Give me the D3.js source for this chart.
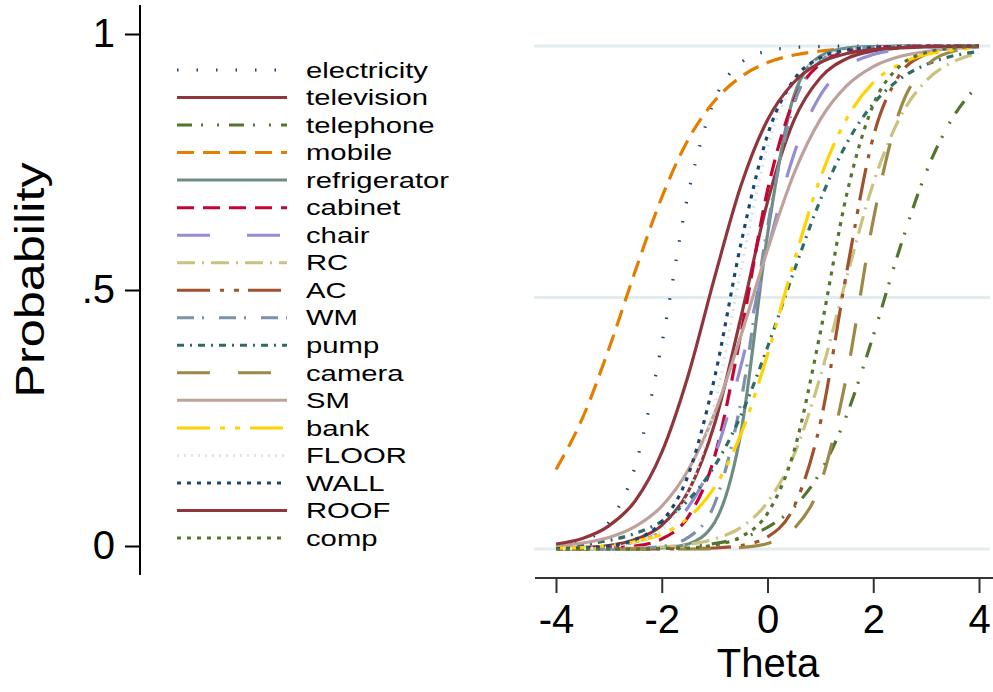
<!DOCTYPE html>
<html><head><meta charset="utf-8">
<script src="https://cdn.jsdelivr.net/npm/d3@7"></script>
<style>
body{margin:0;background:#fff}
svg{display:block}
text{font-family:"Liberation Sans",Arial,sans-serif;fill:#000}
</style>
</head><body>
<svg id="chart" width="993" height="692"></svg>
<script>
// ---------- data ----------
const thetaGrid = [-4,-3.5,-3,-2.5,-2,-1.5,-1,-0.5,0,0.5,1,1.5,2,2.5,3,3.5,4];
const itemNames = ["electricity","television","telephone","mobile","refrigerator","cabinet","chair","RC","AC","WM","pump","camera","SM","bank","FLOOR","WALL","ROOF","comp"];

const electricity  = [0.005,0.016,0.053,0.165,0.407,0.706,0.893,0.967,0.990,0.997,0.999,1,1,1,1,1,1];
const television   = [0.001,0.003,0.007,0.019,0.047,0.114,0.249,0.462,0.690,0.852,0.937,0.975,0.990,0.996,0.998,0.999,1];
const telephone    = [0,0,0.001,0.001,0.003,0.005,0.011,0.022,0.043,0.083,0.153,0.267,0.424,0.597,0.749,0.857,0.924];
const mobile       = [0.158,0.260,0.398,0.553,0.699,0.814,0.891,0.939,0.967,0.982,0.990,0.995,0.997,0.999,0.999,1,1];
const refrigerator = [0,0,0,0,0.002,0.010,0.053,0.233,0.625,0.901,0.980,0.996,0.999,1,1,1,1];
const cabinet      = [0,0.001,0.002,0.006,0.020,0.064,0.184,0.429,0.713,0.892,0.965,0.989,0.997,0.999,1,1,1];
const chair        = [0.001,0.002,0.006,0.014,0.035,0.083,0.185,0.365,0.592,0.785,0.902,0.959,0.983,0.993,0.997,0.999,1];
const RC           = [0,0,0.001,0.002,0.004,0.009,0.020,0.043,0.093,0.187,0.343,0.541,0.727,0.857,0.931,0.968,0.986];
const AC           = [0,0,0,0,0,0.001,0.002,0.007,0.024,0.084,0.251,0.552,0.819,0.943,0.984,0.996,0.999];
const WM           = [0,0,0,0.001,0.005,0.023,0.090,0.295,0.641,0.884,0.970,0.993,0.998,1,1,1,1];
const pump         = [0.005,0.009,0.017,0.031,0.055,0.097,0.165,0.266,0.401,0.552,0.694,0.807,0.885,0.934,0.963,0.980,0.989];
const camera       = [0,0,0,0,0,0,0.001,0.003,0.011,0.040,0.129,0.346,0.654,0.871,0.960,0.989,0.997];
const SM           = [0.006,0.012,0.023,0.045,0.085,0.157,0.270,0.425,0.595,0.746,0.854,0.921,0.959,0.979,0.989,0.995,0.997];
const bank         = [0.002,0.003,0.007,0.015,0.030,0.062,0.123,0.229,0.386,0.571,0.738,0.856,0.927,0.964,0.983,0.992,0.996];
const FLOOR        = [0,0.001,0.004,0.013,0.038,0.112,0.285,0.557,0.799,0.926,0.975,0.992,0.997,0.999,1,1,1];
const WALL         = [0.001,0.002,0.006,0.019,0.054,0.147,0.341,0.608,0.823,0.933,0.977,0.992,0.997,0.999,1,1,1];
const ROOF         = [0.010,0.021,0.046,0.096,0.192,0.345,0.540,0.723,0.853,0.928,0.967,0.985,0.993,0.997,0.999,0.999,1];
const comp         = [0,0,0,0,0.001,0.002,0.008,0.024,0.071,0.194,0.431,0.706,0.883,0.960,0.987,0.996,0.999];

const seriesValues = [electricity,television,telephone,mobile,refrigerator,cabinet,chair,RC,AC,WM,pump,camera,SM,bank,FLOOR,WALL,ROOF,comp];

const yTickValues = [0, 0.5, 1];
const yTickLabels = ["0", ".5", "1"];
const xTickValues = [-4, -2, 0, 2, 4];
const xTickLabels = ["-4", "-2", "0", "2", "4"];
const xTitle = "Theta";
const yTitle = "Probability";

// ---------- styles ----------
const palette = ["#1a476f","#90353b","#55752f","#e37e00","#6e8e84","#c10534","#938dd2","#cac27e","#a0522d","#7b92a8","#2d6d66","#9c8847","#bfa19c","#ffd200","#d9e6eb","#1a476f","#90353b","#55752f"];
const dashes = ["1.5,18","","15,9,2,14,2,10","17,9","","17,9","33,37","18,7,2,7","33,10,4,10,5,9","17,8,2,15","7,6,2,6","33,28","","33,10,5,10,5,10","2,5","4,6","","4,6"];

// ---------- drawing ----------
const svg = d3.select("#chart");

const x = d3.scaleLinear().domain([-4, 4]).range([556, 979]);
const y = d3.scaleLinear().domain([0, 1]).range([549, 46]);
const yAx = d3.scaleLinear().domain([0, 1]).range([546, 34]);

// gridlines
svg.append("g").selectAll("line").data(yTickValues).join("line")
  .attr("x1", 534).attr("x2", 990)
  .attr("y1", d => y(d)).attr("y2", d => y(d))
  .attr("stroke", "#e3ecee").attr("stroke-width", 3);

// curves
const line = d3.line()
  .x((d, i) => x(thetaGrid[i]))
  .y(d => y(d))
  .curve(d3.curveMonotoneX);

svg.append("g").attr("fill", "none").selectAll("path")
  .data(seriesValues).join("path")
  .attr("d", d => line(d))
  .attr("stroke", (d, i) => palette[i])
  .attr("stroke-width", 3.2)
  .attr("stroke-dasharray", (d, i) => dashes[i] || null);

// left axis
const gy = svg.append("g").attr("transform", "translate(140,0)")
  .call(d3.axisLeft(yAx).tickValues(yTickValues)
    .tickFormat((d, i) => yTickLabels[i]).tickSize(15).tickPadding(10));
gy.select(".domain").attr("d", "M0,5V575").attr("stroke", "#000").attr("stroke-width", 2);
gy.selectAll(".tick line").attr("stroke", "#000").attr("stroke-width", 2);
gy.selectAll(".tick text").attr("font-size", 40).attr("font-family", "Liberation Sans, Arial, sans-serif").attr("fill", "#000");

// bottom axis
const gx = svg.append("g").attr("transform", "translate(0,578)")
  .call(d3.axisBottom(x).tickValues(xTickValues)
    .tickFormat((d, i) => xTickLabels[i]).tickSize(15).tickPadding(12));
gx.select(".domain").attr("d", "M535,0H993").attr("stroke", "#333").attr("stroke-width", 2);
gx.selectAll(".tick line").attr("stroke", "#333").attr("stroke-width", 2);
gx.selectAll(".tick text").attr("font-size", 40).attr("font-family", "Liberation Sans, Arial, sans-serif").attr("fill", "#000");

// axis titles
svg.append("text").attr("x", 768).attr("y", 677).attr("text-anchor", "middle")
  .attr("font-size", 40).text(xTitle);
svg.append("text").attr("transform", "translate(44,280) rotate(-90) scale(1.26,1)")
  .attr("text-anchor", "middle").attr("font-size", 40).text(yTitle);

// legend
const ly = d3.scaleLinear().domain([0, itemNames.length - 1]).range([70, 538]);
const lg = svg.append("g").selectAll("g").data(itemNames).join("g")
  .attr("transform", (d, i) => `translate(0,${ly(i)})`);
lg.append("line").attr("x1", 177).attr("x2", 287).attr("y1", 0).attr("y2", 0)
  .attr("stroke", (d, i) => palette[i]).attr("stroke-width", 3)
  .attr("stroke-dasharray", (d, i) => dashes[i] || null);
lg.append("text").attr("transform", "translate(306,0) scale(1.33,1)")
  .attr("dy", "0.35em").attr("font-size", 22).text(d => d);
</script>
</body></html>
